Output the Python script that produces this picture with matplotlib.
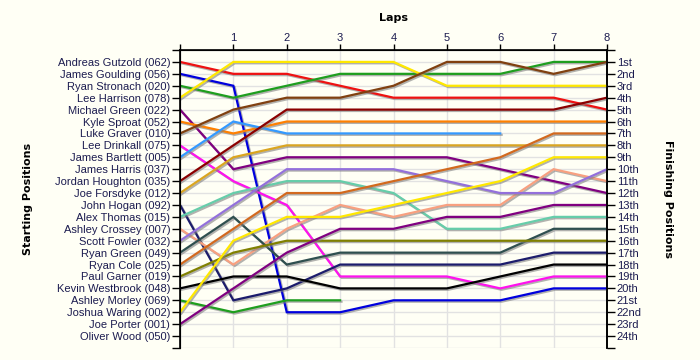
import matplotlib
matplotlib.use("Agg")
import matplotlib.pyplot as plt
import matplotlib.patheffects as pe

# lap chart data
laps = [0, 1, 2, 3, 4, 5, 6, 7, 8]

drivers = [
    "Andreas Gutzold (062)", "James Goulding (056)", "Ryan Stronach (020)",
    "Lee Harrison (078)", "Michael Green (022)", "Kyle Sproat (052)",
    "Luke Graver (010)", "Lee Drinkall (075)", "James Bartlett (005)",
    "James Harris (037)", "Jordan Houghton (035)", "Joe Forsdyke (012)",
    "John Hogan (092)", "Alex Thomas (015)", "Ashley Crossey (007)",
    "Scott Fowler (032)", "Ryan Green (049)", "Ryan Cole (025)",
    "Paul Garner (019)", "Kevin Westbrook (048)", "Ashley Morley (069)",
    "Joshua Waring (002)", "Joe Porter (001)", "Oliver Wood (050)",
]

finish_labels = ["1st", "2nd", "3rd"] + [f"{i}th" for i in range(4, 21)] + ["21st", "22nd", "23rd", "24th"]

# position at each lap (None = no line drawn)
positions = [
    [1, 2, 2, 3, 4, 4, 4, 4, 5],
    [2, 3, 22, 22, 21, 21, 21, 20, 20],
    [3, 4, 3, 2, 2, 2, 2, 1, 1],
    [4, 1, 1, 1, 1, 3, 3, 3, 3],
    [5, 10, 9, 9, 9, 9, 10, 11, 12],
    [6, 7, 6, 6, 6, 6, 6, 6, 6],
    [7, 5, 4, 4, 3, 1, 1, 2, 1],
    [8, 11, 13, 19, 19, 19, 20, 19, 19],
    [9, 6, 7, 7, 7, 7, 7],
    None,
    [11, 8, 5, 5, 5, 5, 5, 5, 4],
    [12, 9, 8, 8, 8, 8, 8, 8, 8],
    [13, 21, 20, 18, 18, 18, 18, 17, 17],
    [14, 12, 11, 11, 12, 15, 15, 14, 14],
    [15, 18, 15, 13, 14, 13, 13, 10, 11],
    [16, 13, 10, 10, 10, 11, 12, 12, 10],
    [17, 14, 18, 17, 17, 17, 17, 15, 15],
    [18, 15, 12, 12, 11, 10, 9, 7, 7],
    [19, 17, 16, 16, 16, 16, 16, 16, 16],
    [20, 19, 19, 20, 20, 20, 19, 18, 18],
    [21, 22, 21, 21],
    [22, 16, 14, 14, 13, 12, 11, 9, 9],
    [23, 20, 17, 15, 15, 14, 14, 13, 13],
    None,
]

colors = [
    "#EE1111", "#0000DD", "#1E9E1E", "#FFE800", "#800080", "#FF8000",
    "#804010", "#FF11EE", "#3399FF", None, "#8B0000", "#DAA520",
    "#1C1C6C", "#66CDAA", "#F8A080", "#9370DB", "#2F4F4F", "#D2691E",
    "#808000", "#000000", "#1E9E1E", "#FFE800", "#800080", None,
]

bg = "#FFFFF5"
txt = "#1c1c50"
plt.rcParams["font.family"] = ["Liberation Sans", "DejaVu Sans"]

fig = plt.figure(figsize=(7, 3.6), dpi=100, facecolor=bg)
ax = fig.add_axes([180 / 700, 1 - 348 / 360, 427 / 700, 298 / 360])
ax.set_facecolor(bg)

n = len(drivers)
for pos, col in zip(positions, colors):
    if pos is None:
        continue
    ax.plot(laps[:len(pos)], pos, color=col, lw=1.6, solid_joinstyle="miter",
            path_effects=[pe.SimpleLineShadow(offset=(1, -1), shadow_color="gray", alpha=0.6),
                          pe.Normal()], zorder=3)

ax.set_xlim(0, 8)
ax.set_ylim(n + 1, 0)

ax.xaxis.tick_top()
ax.set_xticks(laps)
ax.set_xticklabels([""] + [str(l) for l in laps[1:]])
ax.set_yticks(range(0, n + 2))
ax.set_yticklabels([""] + drivers + [""])
ax.tick_params(axis="x", length=4, width=1, pad=1, labelsize=8, labelcolor=txt)
ax.tick_params(axis="y", length=6, width=1, pad=1, labelsize=8, labelcolor=txt)

ax.grid(True, color="#E2E2E2", lw=1, zorder=0)
ax.set_axisbelow(True)
ax.spines["bottom"].set_visible(False)
for s in ["top", "left", "right"]:
    ax.spines[s].set_linewidth(1.2)

ax2 = ax.twinx()
ax2.set_ylim(n + 1, 0)
ax2.set_yticks(range(0, n + 2))
ax2.set_yticklabels([""] + finish_labels + [""])
ax2.tick_params(axis="y", length=6, width=1, pad=1, labelsize=8, labelcolor=txt)
ax2.spines["bottom"].set_visible(False)
ax2.spines["right"].set_linewidth(1.2)

fig.text(393.5 / 700, 1 - 18 / 360, "Laps", ha="center", va="center",
         fontsize=8, fontweight="bold", family="DejaVu Sans")
fig.text(28 / 700, 1 - 199 / 360, "Starting Positions", ha="center", va="center",
         rotation=90, fontsize=8, fontweight="bold", family="DejaVu Sans")
fig.text(668 / 700, 1 - 199 / 360, "Finishing Positions", ha="center", va="center",
         rotation=-90, fontsize=8, fontweight="bold", family="DejaVu Sans")

fig.savefig("out.png", dpi=100, facecolor=bg)
